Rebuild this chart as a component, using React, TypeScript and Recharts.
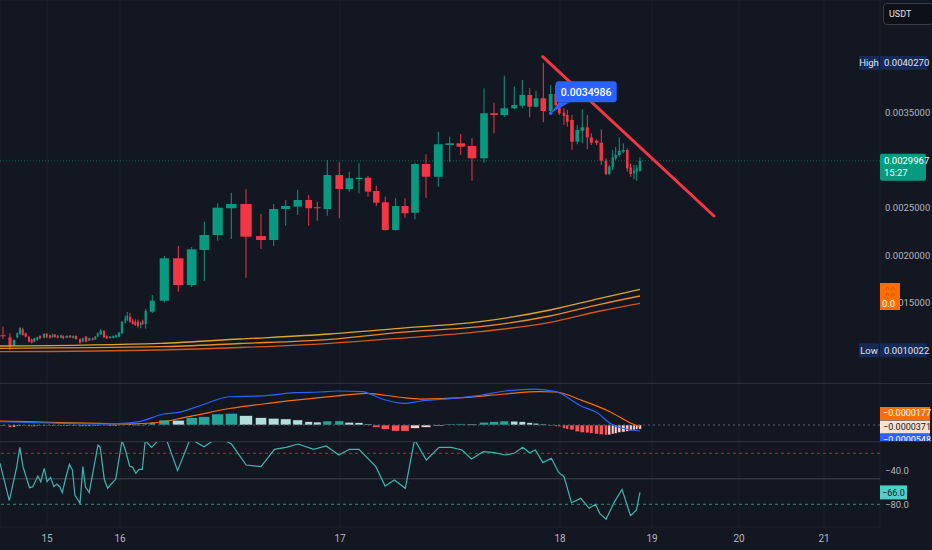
import { ComposedChart, Bar, Line, XAxis, YAxis, CartesianGrid, ReferenceLine, ReferenceDot } from 'recharts';

const W = 932;
const AXIS_W = 52;
const PLOT_W = W - AXIS_W;
const X_DOMAIN: [number, number] = [0, 880];
const PX_PER_SLOT = PLOT_W / (X_DOMAIN[1] - X_DOMAIN[0]);

const BG = '#131722';
const GRID = '#1c202b';
const SEP = '#2a2e39';
const TEXT = '#b2b5be';
const UP = '#089981';
const DOWN = '#f23645';
const FONT = "Roboto, 'Liberation Sans', sans-serif";

// time scale is bar-indexed like TradingView, so days are not evenly spaced
const dayTicks = [47, 120, 340, 560, 652, 739, 824];
const dayLabels = ['15', '16', '17', '18', '19', '20', '21'];

// [slot, open, high, low, close]
const candles: [number, number, number, number, number][] = [
  [3, 0.00116, 0.001253, 0.001121, 0.001155],
  [10, 0.001139, 0.001181, 0.0010022, 0.00105],
  [14, 0.00105, 0.001116, 0.001045, 0.001111],
  [17.3, 0.001137, 0.00119, 0.00113, 0.001181],
  [20, 0.001174, 0.001248, 0.001165, 0.001234],
  [22.7, 0.001223, 0.00124, 0.001155, 0.001163],
  [25.7, 0.001181, 0.00119, 0.001137, 0.001146],
  [29, 0.001146, 0.00115, 0.001086, 0.001093],
  [31.7, 0.001118, 0.001125, 0.001075, 0.001082],
  [34.3, 0.001093, 0.001135, 0.001086, 0.001128],
  [37.3, 0.001111, 0.001146, 0.001104, 0.001139],
  [40, 0.001153, 0.00116, 0.001121, 0.001128],
  [44, 0.001135, 0.001181, 0.001128, 0.001174],
  [46.7, 0.001174, 0.001184, 0.001132, 0.001139],
  [50, 0.00116, 0.001167, 0.001125, 0.001135],
  [52.7, 0.001139, 0.001177, 0.001132, 0.001167],
  [55, 0.001167, 0.001174, 0.001135, 0.001142],
  [57.7, 0.001156, 0.001163, 0.001128, 0.001135],
  [61, 0.001135, 0.001167, 0.001128, 0.00116],
  [63.3, 0.001153, 0.00116, 0.001118, 0.001128],
  [66.7, 0.001135, 0.00116, 0.00113, 0.001153],
  [70, 0.001156, 0.001163, 0.001132, 0.001139],
  [73.3, 0.001132, 0.00116, 0.001125, 0.001153],
  [76, 0.001153, 0.00116, 0.001114, 0.001121],
  [80, 0.001121, 0.001128, 0.001072, 0.001082],
  [82.7, 0.001093, 0.001135, 0.001086, 0.001128],
  [86, 0.001146, 0.001153, 0.001086, 0.001093],
  [89.3, 0.001104, 0.001135, 0.001097, 0.001128],
  [92.7, 0.001128, 0.001135, 0.001104, 0.001111],
  [95.3, 0.001118, 0.001153, 0.001111, 0.001146],
  [97.7, 0.001146, 0.00119, 0.001139, 0.001181],
  [100.7, 0.00117, 0.001227, 0.001163, 0.001209],
  [104, 0.001205, 0.001216, 0.001132, 0.001139],
  [106.7, 0.001153, 0.00116, 0.001121, 0.001128],
  [110, 0.001132, 0.001153, 0.001125, 0.001146],
  [113.3, 0.001132, 0.00116, 0.001125, 0.001153],
  [116, 0.001139, 0.00117, 0.001132, 0.00116],
  [119, 0.001146, 0.001195, 0.001139, 0.001188],
  [122, 0.001181, 0.00131, 0.001174, 0.001303],
  [125.3, 0.001293, 0.00137, 0.001286, 0.001339],
  [127.3, 0.001321, 0.001405, 0.00131, 0.001363],
  [130, 0.001356, 0.001395, 0.001293, 0.001303],
  [132.7, 0.001314, 0.001335, 0.001272, 0.001279],
  [135.3, 0.001303, 0.001328, 0.001258, 0.001268],
  [138, 0.001303, 0.001325, 0.00124, 0.001258],
  [140.7, 0.001268, 0.001303, 0.001234, 0.001293],
  [142.7, 0.00131, 0.001324, 0.00127, 0.001279],
  [145.7, 0.001279, 0.001437, 0.00123, 0.001416],
  [152.3, 0.001408, 0.001584, 0.001395, 0.001524],
  [164.3, 0.001524, 0.001995, 0.001505, 0.001971],
  [178.3, 0.001971, 0.0021, 0.001619, 0.001689],
  [191.7, 0.001689, 0.00209, 0.001668, 0.002065],
  [204.3, 0.002058, 0.002356, 0.001732, 0.002216],
  [217.7, 0.002216, 0.002549, 0.002156, 0.002503],
  [231.3, 0.002497, 0.002661, 0.002174, 0.002542],
  [246, 0.002542, 0.002697, 0.001766, 0.002198],
  [261, 0.002205, 0.002437, 0.002068, 0.002163],
  [273.7, 0.002163, 0.002542, 0.0021, 0.002489],
  [285.7, 0.002489, 0.002584, 0.002314, 0.002521],
  [297.7, 0.002514, 0.002689, 0.002426, 0.002584],
  [308.7, 0.002584, 0.002637, 0.002314, 0.002497],
  [317.3, 0.002508, 0.002566, 0.002366, 0.0025],
  [327.3, 0.002489, 0.003005, 0.002419, 0.002847],
  [339.3, 0.002847, 0.002981, 0.002392, 0.0027],
  [349.3, 0.0027, 0.002882, 0.002672, 0.002813],
  [359, 0.002805, 0.002971, 0.002655, 0.002819],
  [368, 0.002819, 0.002837, 0.002619, 0.002672],
  [376.3, 0.002679, 0.002735, 0.002521, 0.002556],
  [385.3, 0.00256, 0.002619, 0.002261, 0.002268],
  [395.7, 0.002268, 0.002602, 0.002261, 0.002521],
  [405, 0.002521, 0.002602, 0.002398, 0.002444],
  [415, 0.00245, 0.002977, 0.002381, 0.002963],
  [426, 0.002963, 0.003065, 0.002605, 0.002829],
  [438.3, 0.002829, 0.003303, 0.002724, 0.003171],
  [449.7, 0.003163, 0.00325, 0.002987, 0.003181],
  [460.7, 0.003181, 0.003279, 0.003058, 0.003145],
  [472, 0.003153, 0.003234, 0.002787, 0.003023],
  [484, 0.003023, 0.00376, 0.002977, 0.003497],
  [494, 0.003497, 0.003608, 0.003286, 0.003479],
  [504.3, 0.003479, 0.003893, 0.003461, 0.00355],
  [514.3, 0.00355, 0.003777, 0.003539, 0.003584],
  [522.3, 0.003577, 0.003847, 0.00355, 0.00369],
  [529.7, 0.00369, 0.00376, 0.003455, 0.003566],
  [536, 0.003566, 0.003735, 0.00356, 0.003655],
  [543.3, 0.003655, 0.004027, 0.003402, 0.003521],
  [550.7, 0.003521, 0.003795, 0.003497, 0.0037],
  [555.7, 0.0037, 0.003795, 0.003574, 0.003584],
  [559.3, 0.003584, 0.003637, 0.003479, 0.003497],
  [564, 0.003503, 0.00355, 0.003374, 0.003468],
  [567.3, 0.003479, 0.003532, 0.003356, 0.003408],
  [572, 0.003426, 0.003479, 0.003111, 0.003198],
  [577.3, 0.003198, 0.003374, 0.003171, 0.003321],
  [582.3, 0.003314, 0.003539, 0.003181, 0.003349],
  [587.3, 0.003349, 0.003479, 0.003121, 0.003244],
  [591.3, 0.003244, 0.003286, 0.003163, 0.003187],
  [596.7, 0.003208, 0.003223, 0.003163, 0.003187],
  [601.3, 0.003187, 0.003328, 0.002953, 0.002998],
  [606, 0.002998, 0.003023, 0.002847, 0.002858],
  [609.3, 0.002858, 0.002953, 0.002847, 0.002935],
  [612.7, 0.002928, 0.00311, 0.0029, 0.003034],
  [615.7, 0.003023, 0.003145, 0.003005, 0.003058],
  [619.3, 0.003058, 0.003244, 0.00304, 0.003103],
  [623.3, 0.003093, 0.003181, 0.003076, 0.00311],
  [627.3, 0.00311, 0.003128, 0.002882, 0.002918],
  [630.7, 0.002928, 0.002971, 0.002829, 0.002858],
  [634, 0.002865, 0.002953, 0.002802, 0.002893],
  [636.7, 0.002882, 0.002953, 0.002787, 0.002918],
  [640, 0.002893, 0.003034, 0.002882, 0.0029967],
];

// MACD histogram, one value per candle
const macdHist = [
  -0.000004, -0.000022, -0.000018, -0.00001, -0.000004, -0.000006, -0.000009, -0.000014,
  -0.000016, -0.000012, -0.000008, -0.000009, -0.000005, -0.000006, -0.000008, -0.000006,
  -0.000007, -0.000009, -0.000007, -0.000009, -0.000007, -0.000008, -0.000006, -0.000008,
  -0.000013, -0.00001, -0.000012, -0.00001, -0.000011, -0.000008, -0.000004, 0.000002,
  -0.000003, -0.000006, -0.000005, -0.000004, -0.000003, 0.000001, 0.000008, 0.000012,
  0.000014, 0.000011, 0.000008, 0.000006, 0.000005, 0.000006, 0.000004, 0.000014,
  0.000025, 0.000045, 0.000043, 0.000066, 0.000075, 0.0001, 0.000106, 0.000085,
  0.000066, 0.000061, 0.000055, 0.000046, 0.00003, 0.000027, 0.000036, 0.000037,
  0.000025, 0.000021, 0.000009, -0.000021, -0.000039, -0.000055, -0.000056, -0.00003,
  -0.000021, -0.000004, 0.000009, 0.00001, 0.000008, 0.000025, 0.00003, 0.000036,
  0.000035, 0.00003, 0.000021, 0.000016, 0.000008, -0.000004,
  -0.000012, -0.000015, -0.00003, -0.000038, -0.000045, -0.000061, -0.000068, -0.000072,
  -0.000075, -0.000082, -0.000088, -0.000091, -0.00009, -0.000082, -0.000077, -0.000068,
  -0.000064, -0.000058, -0.000052, -0.000045, -0.00004, -0.0000371,
];

const macdLine: [number, number][] = [
  [0, 0.00003], [50, 0.000018], [100, 0.000009], [122, 0.000014], [139, 0.00003],
  [164, 0.0001], [177, 0.000112], [202, 0.000182], [229, 0.000257], [261, 0.000264],
  [295, 0.000294], [320, 0.0003], [337, 0.000309], [362, 0.000303], [383, 0.000234],
  [404, 0.000197], [421, 0.000218], [442, 0.000234], [476, 0.000264], [505, 0.000309],
  [534, 0.000327], [556, 0.000303], [581, 0.000173], [598, 0.000106], [610, 0.0000155],
  [627, -0.000039], [640, -0.0000548],
];

const signalLine: [number, number][] = [
  [0, 0.000036], [50, 0.000025], [100, 0.000014], [122, 0.000009], [152, 0.000018],
  [189, 0.0000755], [231, 0.000152], [274, 0.000203], [337, 0.000264], [366, 0.000288],
  [400, 0.000252], [421, 0.000236], [463, 0.000248], [505, 0.000282], [539, 0.000303],
  [556, 0.0003], [581, 0.000227], [610, 0.000121], [631, 0.0000155], [640, -0.0000177],
];

// Williams %R
const williamsR: [number, number][] = [
  [0, -31.8], [9.3, -75.7], [16.8, -35.7], [19.8, -13], [23, -35.7], [29.5, -60.4], [32.8, -59.3],
  [37.9, -46.7], [40.8, -53.4], [44.2, -37.7], [47.1, -53.4], [50.5, -48.3], [53.9, -59.3],
  [56.8, -56.1], [59.8, -59.3], [62.3, -66.3], [65.2, -51.4], [69.4, -33], [72.4, -39.6],
  [74.9, -69], [80, -78.9], [82.9, -35.7], [85.4, -59.3], [89.2, -66.3], [93.4, -39.6],
  [98, -10.2], [100.2, -13], [104.4, -51.4], [107.7, -61.2], [110.3, -57.3], [115.7, -50.6],
  [122, -5], [125.4, -16.1], [129.6, -34.9], [132.6, -36.5], [135.9, -43.6], [138.9, -38.9],
  [142.3, -38.9], [145.2, -5], [151.5, -13], [160, -3], [166.2, -3], [177.6, -40.4],
  [190.2, -3], [204.1, -12.2], [214.6, -4], [223, -4], [231.5, -9.1], [246.2, -33.8],
  [261, -35.7], [274.4, -15.3], [286.2, -13], [298, -9.1], [313.6, -15.3], [326.2, -11.4],
  [338.8, -22], [349.3, -15.3], [359, -15.3], [375.8, -35.7], [385.1, -58.5], [394.4, -51.4],
  [405.3, -61.2], [414.6, -4], [426.3, -27.9], [439, -13], [451.2, -13], [462.1, -16.1],
  [471.4, -26.7], [483.2, -18.1], [494.5, -19.3], [505, -22], [514.3, -20], [522.7, -13],
  [529.5, -19.3], [535.4, -16.1], [542.9, -31], [551.3, -25.9], [558.9, -42.8], [564, -47.5],
  [571.5, -78.1], [580.8, -73], [589.2, -84.7], [595.5, -80], [599.7, -90.6], [606.1, -97.7],
  [613.6, -78.9], [622, -62.4], [630.5, -93.4], [636.4, -86.7], [640, -66],
];

// moving averages (fast -> slow)
const maFast: [number, number][] = [
  [0, 0.0010474], [160, 0.0010758], [240, 0.0011211], [330, 0.0011737], [400, 0.0012337],
  [480, 0.0013032], [550, 0.0014263], [600, 0.0015495], [640, 0.0016442],
];
const maMid: [number, number][] = [
  [0, 0.0010232], [160, 0.00104], [240, 0.0010737], [330, 0.0011179], [400, 0.0011916],
  [480, 0.0012505], [550, 0.0013632], [600, 0.0014863], [640, 0.0015737],
];
const maSlow: [number, number][] = [
  [0, 0.0009874], [160, 0.0010053], [240, 0.0010316], [330, 0.0010758], [400, 0.0011284],
  [480, 0.0011979], [550, 0.0012968], [600, 0.0014158], [640, 0.0014968],
];

const priceGrid = [0.001, 0.0015, 0.002, 0.0025, 0.003, 0.0035, 0.004, 0.0045];
const priceLabels = [0.0015, 0.002, 0.0025, 0.0035];
const wrTicks = [-40, -80];

const lastPrice = 0.0029967;
const countdown = '15:27';
const sessionHigh = 0.004027;
const sessionLow = 0.0010022;
const callout = { slot: 550.7, price: 0.0034986 };
const trendLine: [number, number][] = [[542.7, 0.0040926], [714, 0.0024158]];
const lastSignal = -0.0000177;
const lastHist = -0.0000371;
const lastMacd = -0.0000548;
const lastWR = -66.0;

const PRICE_DOMAIN: [number, number] = [0.0006579, 0.0046895];
const MACD_DOMAIN: [number, number] = [-0.0001455, 0.0003727];
const WR_DOMAIN: [number, number] = [-106.7, -6.7];

type Row = {
  slot: number;
  o?: number; h?: number; l?: number; c?: number;
  range?: [number, number];
  gap?: number;
  hist?: number;
  histColor?: string;
  [k: string]: any;
};

const rowMap = new Map<number, Row>();
const rowAt = (slot: number) => {
  let r = rowMap.get(slot);
  if (!r) {
    r = { slot };
    rowMap.set(slot, r);
  }
  return r;
};

candles.forEach(([slot, o, h, l, c], i) => {
  const prev = i > 0 ? slot - candles[i - 1][0] : Infinity;
  const next = i < candles.length - 1 ? candles[i + 1][0] - slot : Infinity;
  const r = rowAt(slot);
  Object.assign(r, { o, h, l, c, range: [l, h], gap: Math.min(prev, next) });
  const hv = macdHist[i];
  if (hv != null) {
    const pv = i > 0 ? macdHist[i - 1] : 0;
    r.hist = hv;
    r.histColor = hv >= 0 ? (hv >= pv ? '#26a69a' : '#b2dfdb') : (hv >= pv ? '#ffcdd2' : '#ff5252');
  }
});

const addSeries = (arr: [number, number][], key: string) =>
  arr.forEach(([slot, v]) => {
    rowAt(slot)[key] = v;
  });
addSeries(macdLine, 'macd');
addSeries(signalLine, 'signal');
addSeries(williamsR, 'wr');
addSeries(maFast, 'maFast');
addSeries(maMid, 'maMid');
addSeries(maSlow, 'maSlow');

const rows = Array.from(rowMap.values()).sort((a, b) => a.slot - b.slot);

const fmtPrice = (v: number) => v.toFixed(7);
const fmtSigned = (v: number, d: number) => (v < 0 ? '\u2212' : '') + Math.abs(v).toFixed(d);

function Candle(props: any) {
  const { x, y, width, height, payload } = props;
  if (!payload || payload.o == null) return <g />;
  const { o, h, l, c, gap } = payload;
  const top = Math.min(y, y + height);
  const span = Math.abs(height);
  const k = h > l ? span / (h - l) : 0;
  const cx = x + width / 2;
  const yo = top + (h - o) * k;
  const yc = top + (h - c) * k;
  const color = c >= o ? UP : DOWN;
  const bw = Math.max(1, gap * PX_PER_SLOT * 0.77);
  return (
    <g>
      <line x1={cx} x2={cx} y1={top} y2={top + span} stroke={color} strokeWidth={1} />
      <rect x={cx - bw / 2} y={Math.min(yo, yc)} width={bw} height={Math.max(1, Math.abs(yc - yo))} fill={color} />
    </g>
  );
}

function HistBar(props: any) {
  const { x, y, width, height, payload } = props;
  if (!payload || payload.hist == null) return <g />;
  const cx = x + width / 2;
  const bw = Math.max(1, payload.gap * PX_PER_SLOT * 0.88);
  return (
    <rect
      x={cx - bw / 2}
      y={Math.min(y, y + height)}
      width={bw}
      height={Math.max(1, Math.abs(height))}
      fill={payload.histColor}
      stroke={BG}
      strokeWidth={0.5}
    />
  );
}

// price-scale text drawn as labels so the tags can sit on top of it
function AxisText(props: any) {
  const vb = props.viewBox;
  if (!vb) return null;
  return (
    <text x={vb.x + vb.width + 5} y={vb.y + 3.3} fontSize={9.5} fill={TEXT} fontFamily={FONT}>
      {props.text}
    </text>
  );
}

function LastPriceTag(props: any) {
  const vb = props.viewBox;
  if (!vb) return null;
  const xr = vb.x + vb.width;
  return (
    <g fontFamily={FONT}>
      <rect x={xr} y={vb.y - 7} width={46} height={27} rx={2} fill={UP} />
      <text x={xr + 4} y={vb.y + 3} fontSize={9.5} fill="#ffffff">{fmtPrice(lastPrice)}</text>
      <text x={xr + 4} y={vb.y + 15.5} fontSize={9.5} fill="#ffffff">{countdown}</text>
    </g>
  );
}

function RangeTag(props: any) {
  const vb = props.viewBox;
  if (!vb) return null;
  const xr = vb.x + vb.width;
  return (
    <g fontFamily={FONT} fontSize={9.5}>
      <rect x={xr - 21} y={vb.y - 7} width={20} height={14} fill="#172a55" />
      <text x={xr - 11} y={vb.y + 3.3} textAnchor="middle" fill="#e0e3eb">{props.tag}</text>
      <rect x={xr} y={vb.y - 7} width={47} height={14} fill="#172a55" />
      <text x={xr + 4} y={vb.y + 3.3} fill="#e0e3eb">{fmtPrice(props.value)}</text>
    </g>
  );
}

function IndicatorTag(props: any) {
  const vb = props.viewBox;
  if (!vb) return null;
  const xr = vb.x + vb.width;
  return (
    <g fontFamily={FONT}>
      <rect x={xr} y={vb.y - 13} width={20} height={27} fill="#ff6d00" />
      <text x={xr + 10} y={vb.y - 6} textAnchor="middle" fontSize={5.5} fill="#5a2400">{'\u2229 \u2229'}</text>
      <text x={xr + 10} y={vb.y + 0.5} textAnchor="middle" fontSize={5.5} fill="#5a2400">{'\u2229 \u2229'}</text>
      <text x={xr + 2} y={vb.y + 11} fontSize={9.5} fill="#ffffff">0.0</text>
    </g>
  );
}

function Callout(props: any) {
  const { cx, cy } = props;
  if (cx == null || cy == null) return null;
  const bx = cx + 5;
  const by = cy - 32;
  return (
    <g fontFamily={FONT}>
      <path d={`M${bx + 3},${by + 21} L${cx},${cy} L${bx + 14},${by + 21} Z`} fill="#2962ff" />
      <rect x={bx} y={by} width={61} height={21} rx={3} fill="#2962ff" />
      <text x={bx + 30.5} y={by + 14.5} textAnchor="middle" fontSize={10.5} fontWeight={500} fill="#ffffff">
        {fmtPrice(callout.price)}
      </text>
      <circle cx={cx} cy={cy} r={1.8} fill="#2962ff" />
    </g>
  );
}

function MacdTags(props: any) {
  const vb = props.viewBox;
  if (!vb) return null;
  const xr = vb.x + vb.width;
  const tags = [
    { v: lastSignal, bg: '#ff6d00', fg: '#ffffff', dy: -18 },
    { v: lastHist, bg: '#fbe1d0', fg: '#131722', dy: -4.5 },
    { v: lastMacd, bg: '#2962ff', fg: '#ffffff', dy: 9 },
  ];
  return (
    <g fontFamily={FONT} fontSize={9}>
      {tags.map((t) => (
        <g key={t.bg}>
          <rect x={xr} y={vb.y + t.dy} width={50} height={13} fill={t.bg} />
          <text x={xr + 3} y={vb.y + t.dy + 9.5} fill={t.fg}>{fmtSigned(t.v, 7)}</text>
        </g>
      ))}
    </g>
  );
}

function WrTag(props: any) {
  const vb = props.viewBox;
  if (!vb) return null;
  const xr = vb.x + vb.width;
  return (
    <g fontFamily={FONT}>
      <rect x={xr} y={vb.y - 7} width={27} height={14} fill="#4dd0c8" />
      <text x={xr + 2} y={vb.y + 3.3} fontSize={9} fill="#131722">{fmtSigned(lastWR, 1)}</text>
    </g>
  );
}

const xAxisHidden = (
  <XAxis dataKey="slot" type="number" domain={X_DOMAIN} ticks={dayTicks} allowDataOverflow hide />
);

const noDot = { dot: false, activeDot: false, connectNulls: true, isAnimationActive: false } as const;

export default function App() {
  return (
    <div style={{ position: 'absolute', left: 0, top: 0, width: W, height: 550, background: BG, overflow: 'hidden', fontFamily: FONT }}>
      {/* price pane */}
      <div style={{ position: 'absolute', left: 0, top: 0, width: W, height: 383, overflow: 'hidden' }}>
        <ComposedChart width={W} height={383} data={rows} margin={{ top: 0, right: 0, bottom: 0, left: 0 }}>
          <CartesianGrid stroke={GRID} />
          {xAxisHidden}
          <YAxis
            orientation="right"
            type="number"
            domain={PRICE_DOMAIN}
            ticks={priceGrid}
            allowDataOverflow
            width={AXIS_W}
            axisLine={false}
            tickLine={false}
            tick={false}
          />
          <Line dataKey="maSlow" type="monotone" stroke="#d9561a" strokeWidth={1.3} {...noDot} />
          <Line dataKey="maMid" type="monotone" stroke="#ee8a1f" strokeWidth={1.3} {...noDot} />
          <Line dataKey="maFast" type="monotone" stroke="#dca527" strokeWidth={1.3} {...noDot} />
          <Bar dataKey="range" barSize={4} shape={<Candle />} isAnimationActive={false} />
          {priceLabels.map((p) => (
            <ReferenceLine key={p} y={p} stroke="none" label={<AxisText text={fmtPrice(p)} />} />
          ))}
          <ReferenceLine y={lastPrice} stroke={UP} strokeOpacity={0.6} strokeDasharray="1 2" label={<LastPriceTag />} />
          <ReferenceLine y={sessionHigh} stroke="none" label={<RangeTag tag="High" value={sessionHigh} />} />
          <ReferenceLine y={sessionLow} stroke="none" label={<RangeTag tag="Low" value={sessionLow} />} />
          <ReferenceLine y={maMid[maMid.length - 1][1]} stroke="none" label={<IndicatorTag />} />
          <ReferenceLine
            segment={[{ x: trendLine[0][0], y: trendLine[0][1] }, { x: trendLine[1][0], y: trendLine[1][1] }]}
            stroke={DOWN}
            strokeWidth={3}
            strokeLinecap="round"
          />
          <ReferenceDot x={callout.slot} y={callout.price} r={2} shape={<Callout />} />
        </ComposedChart>
        <div
          style={{
            position: 'absolute', left: 883, top: 3, width: 44, height: 20, border: '1px solid #363a45',
            borderRadius: 4, background: '#0e1017', color: '#e0e3eb', fontSize: 9, lineHeight: '20px', paddingLeft: 5, boxSizing: 'content-box',
          }}
        >
          USDT
        </div>
      </div>
      <div style={{ position: 'absolute', left: 0, top: 383, width: W, height: 1, background: SEP }} />

      {/* MACD pane */}
      <div style={{ position: 'absolute', left: 0, top: 384, width: W, height: 57, overflow: 'hidden' }}>
        <ComposedChart width={W} height={57} data={rows} margin={{ top: 0, right: 0, bottom: 0, left: 0 }}>
          <CartesianGrid stroke={GRID} horizontal={false} />
          {xAxisHidden}
          <YAxis orientation="right" type="number" domain={MACD_DOMAIN} allowDataOverflow width={AXIS_W} axisLine={false} tickLine={false} tick={false} />
          <ReferenceLine y={0} stroke="#5d606b" strokeDasharray="2 3" label={<MacdTags />} />
          <Bar dataKey="hist" barSize={4} shape={<HistBar />} isAnimationActive={false} />
          <Line dataKey="signal" type="monotone" stroke="#ff6d00" strokeWidth={1.2} {...noDot} />
          <Line dataKey="macd" type="monotone" stroke="#2962ff" strokeWidth={1.2} {...noDot} />
        </ComposedChart>
      </div>
      <div style={{ position: 'absolute', left: 0, top: 441, width: W, height: 1, background: SEP }} />

      {/* Williams %R pane + time axis */}
      <div style={{ position: 'absolute', left: 0, top: 442, width: W, height: 108, overflow: 'hidden' }}>
        <ComposedChart width={W} height={108} data={rows} margin={{ top: 0, right: 0, bottom: 0, left: 0 }}>
          <CartesianGrid stroke={GRID} />
          <XAxis
            dataKey="slot"
            type="number"
            domain={X_DOMAIN}
            ticks={dayTicks}
            allowDataOverflow
            height={23}
            axisLine={false}
            tickLine={false}
            tickSize={0}
            tickMargin={8}
            tick={{ fill: TEXT, fontSize: 10, fontFamily: FONT }}
            tickFormatter={(v: number) => dayLabels[dayTicks.indexOf(v)] ?? ''}
          />
          <YAxis
            orientation="right"
            type="number"
            domain={WR_DOMAIN}
            ticks={wrTicks}
            allowDataOverflow
            width={AXIS_W}
            axisLine={false}
            tickLine={false}
            tick={false}
          />
          {wrTicks.map((t) => (
            <ReferenceLine key={t} y={t} stroke="none" label={<AxisText text={fmtSigned(t, 1)} />} />
          ))}
          <ReferenceLine y={-20} stroke="#b5283a" strokeDasharray="3 3" />
          <ReferenceLine y={-50} stroke="#40444f" />
          <ReferenceLine y={-80} stroke="#1f8f83" strokeDasharray="3 3" />
          <Line dataKey="wr" type="linear" stroke="#3fb6ad" strokeWidth={1.2} {...noDot} />
          <ReferenceLine y={lastWR} stroke="none" label={<WrTag />} />
        </ComposedChart>
      </div>
    </div>
  );
}
